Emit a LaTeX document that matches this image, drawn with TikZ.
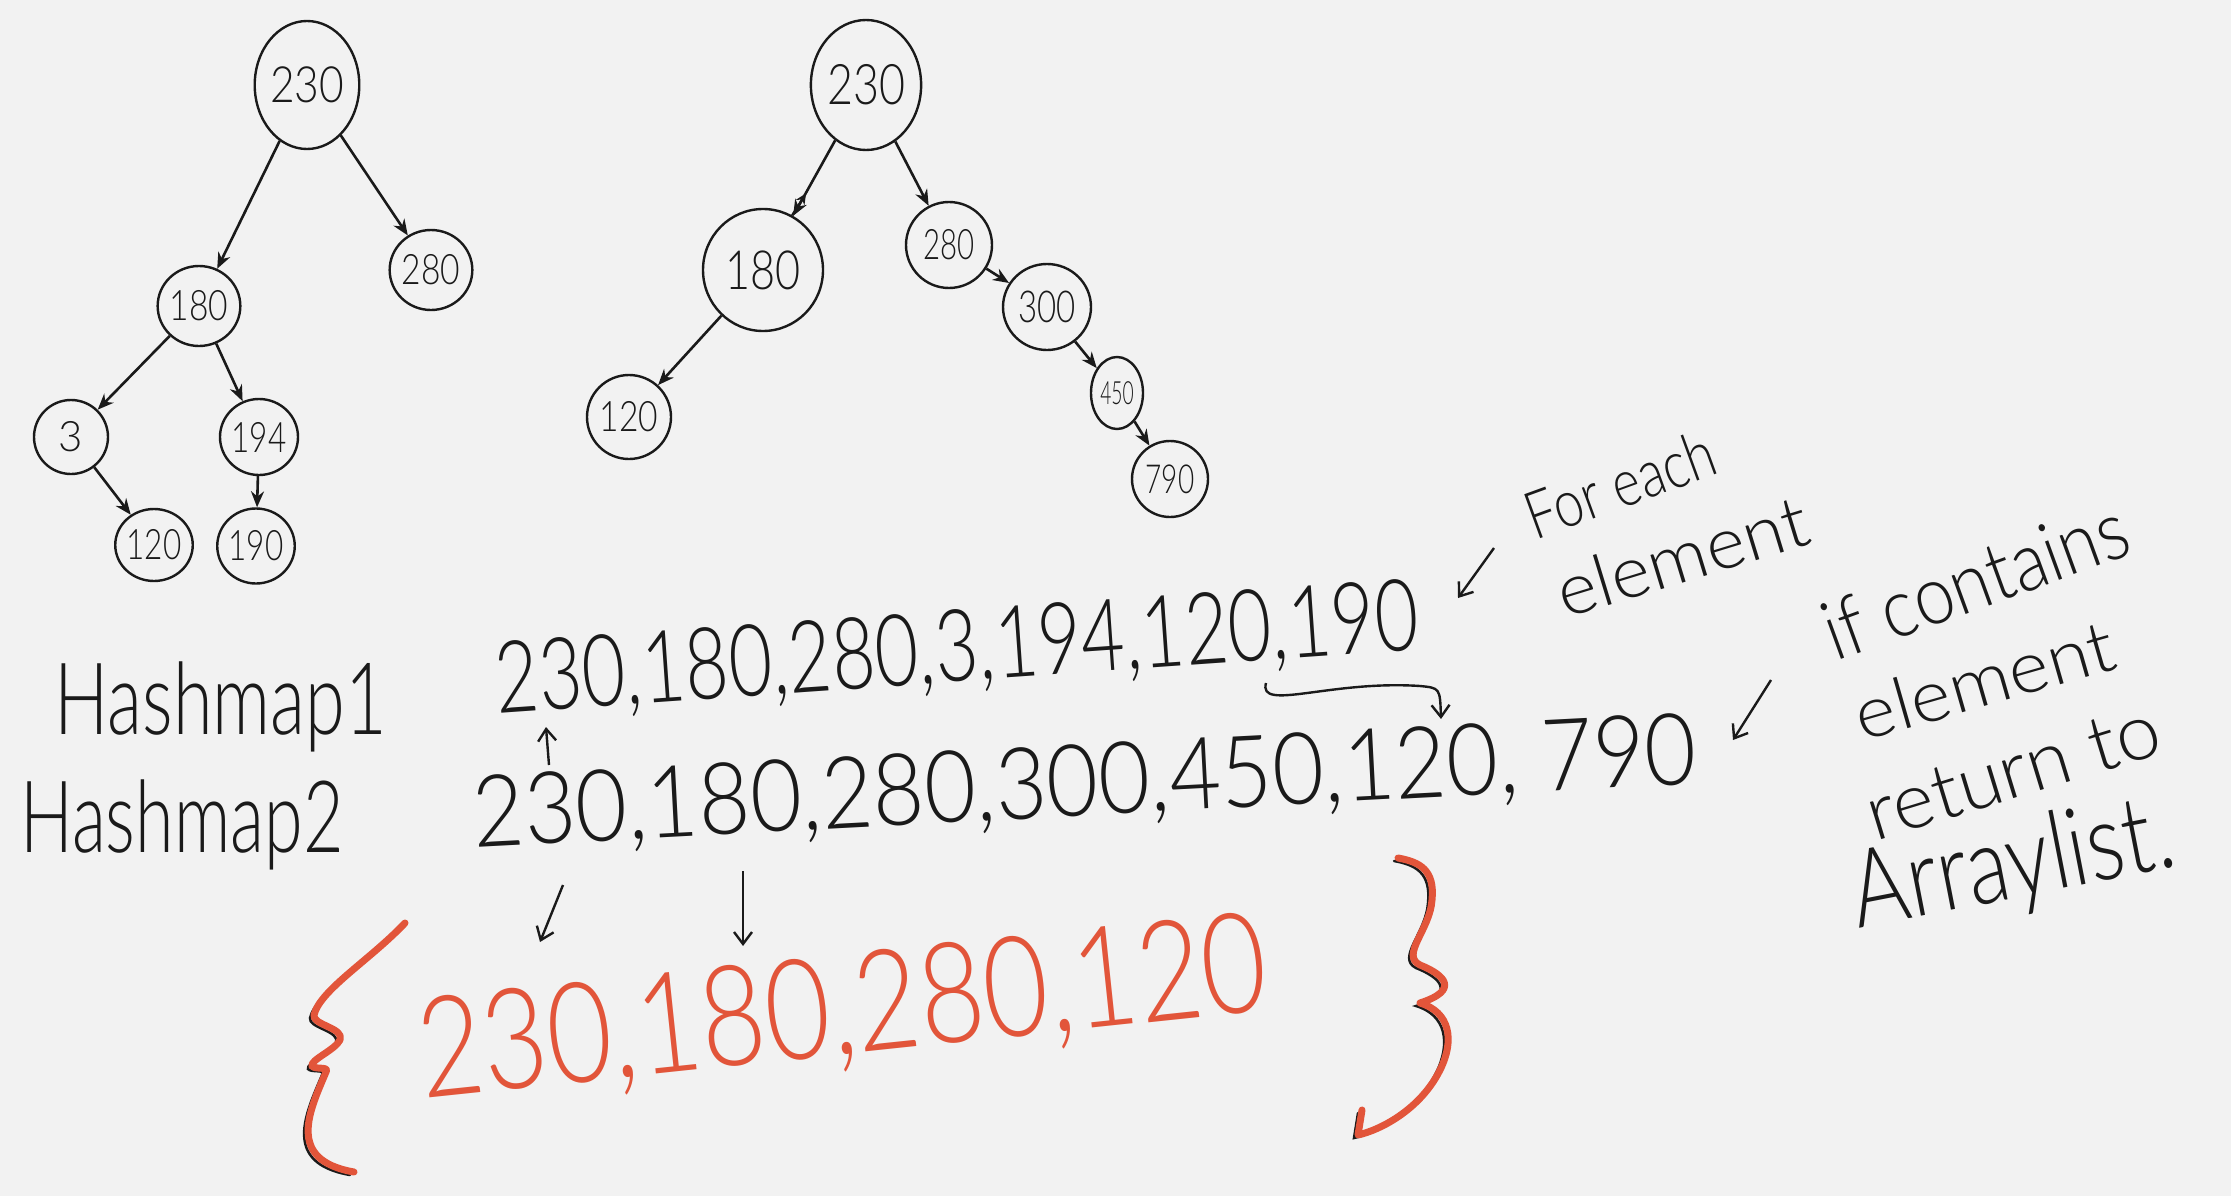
\documentclass[tikz,border=0pt]{standalone}
\usepackage{graphicx}
\usepackage{fontspec}
\setmainfont{Lato Light}
\usetikzlibrary{shapes.geometric,arrows.meta}
\definecolor{bg}{HTML}{F2F2F2}
\definecolor{ink}{HTML}{1A1A1A}
\definecolor{redink}{HTML}{E2553A}
\newcommand\hwsize[1]{\fontsize{#1}{#1}\selectfont}
\newcommand\sqz[2]{\scalebox{#1}[1]{#2}}
\begin{document}
\begin{tikzpicture}[x=1pt,y=-1pt,
  tn/.style={draw=ink, ellipse, line width=2.4, inner sep=0, text=ink},
  edge/.style={draw=ink, line width=2.6, -{Stealth[length=16,width=13]}},
  thinarrow/.style={draw=ink, line width=2.4, -{Straight Barb[length=12,width=18]}},
  hand/.style={text=ink, inner sep=0},
  redhand/.style={text=redink, inner sep=0},
  bracer/.style={draw=redink, line width=7, line cap=round, line join=round},
  braceb/.style={draw=ink, line width=2.5, line cap=round},
]
\fill[bg] (0,0) rectangle (2231,1196);
\useasboundingbox (0,0) rectangle (2231,1196);

% ---- left tree
\node[tn, minimum width=102, minimum height=128, font=\hwsize{50}] (L230) at (307,85) {\sqz{0.85}{230}};
\node[tn, minimum width=82, minimum height=80, font=\hwsize{42}] (L280) at (431,270) {\sqz{0.8}{280}};
\node[tn, minimum width=82, minimum height=80, font=\hwsize{42}] (L180) at (199,306) {\sqz{0.8}{180}};
\node[tn, minimum width=74, minimum height=74, font=\hwsize{42}] (L3) at (71,437) {3};
\node[tn, minimum width=78, minimum height=76, font=\hwsize{42}] (L194) at (259,437) {\sqz{0.75}{194}};
\node[tn, minimum width=74, minimum height=72, font=\hwsize{42}] (L120) at (154,545) {\sqz{0.75}{120}};
\node[tn, minimum width=77, minimum height=75, font=\hwsize{42}] (L190) at (256,546) {\sqz{0.75}{190}};
\draw[edge] (L230) -- (L180);
\draw[edge] (L230) -- (L280);
\draw[edge] (L180) -- (L3);
\draw[edge] (L180) -- (L194);
\draw[edge] (L3) -- (L120);
\draw[edge] (L194) -- (L190);

% ---- right tree
\node[tn, minimum width=106, minimum height=130, font=\hwsize{56}] (R230) at (866,85) {\sqz{0.8}{230}};
\node[tn, minimum width=120, minimum height=122, font=\hwsize{54}] (R180) at (763,270) {\sqz{0.8}{180}};
\node[tn, minimum width=86, minimum height=86, font=\hwsize{42}] (R280) at (949,245) {\sqz{0.7}{280}};
\node[tn, minimum width=84, minimum height=84, font=\hwsize{42}] (R120) at (629,417) {\sqz{0.8}{120}};
\node[tn, minimum width=88, minimum height=86, font=\hwsize{44}] (R300) at (1047,307) {\sqz{0.75}{300}};
\node[tn, minimum width=52, minimum height=72, font=\hwsize{32}] (R450) at (1117,393) {\sqz{0.6}{450}};
\node[tn, minimum width=76, minimum height=76, font=\hwsize{40}] (R790) at (1170,479) {\sqz{0.7}{790}};
\draw[edge] (R230) -- (R180);
\draw[draw=ink, line width=2.2, -{Stealth[length=11,width=10]}] (R180.62) -- ++(14,-22);
\draw[edge] (R230) -- (R280);
\draw[edge] (R180) -- (R120);
\draw[edge] (R280) -- (R300);
\draw[edge] (R300) -- (R450);
\draw[edge] (R450) -- (R790);

% ---- hashmap rows
\node[hand, font=\hwsize{100}, xscale=0.72] (hm1) at (221,707) {Hashmap1};
\node[hand, font=\hwsize{100}, xscale=0.70] (hm2) at (182,825) {Hashmap2};
\node[hand, font=\hwsize{100}, rotate=4, xscale=0.75] (row1) at (957,652) {230,180,280,3,194,120,190};
\node[hand, font=\hwsize{100}, rotate=3, xscale=0.89] (row2) at (1085,786) {230,180,280,300,450,120, 790};

% connectors between rows
\coordinate (c1s) at (1266,683);
\coordinate (c1e) at (1441,719);
\draw[thinarrow] (c1s) .. controls (1258,712) and (1330,680) .. (1420,686) .. controls (1440,688) .. (c1e);
\coordinate (ua1) at (549,765);
\coordinate (ua2) at (546,727);
\draw[thinarrow] (ua1) -- (ua2);
\coordinate (m1s) at (1494,548);
\coordinate (m1e) at (1458,598);
\draw[thinarrow] (m1s) -- (m1e);
\coordinate (m2s) at (1771,680);
\coordinate (m2e) at (1733,740);
\draw[thinarrow] (m2s) -- (m2e);
\coordinate (d1s) at (563,885);
\coordinate (d1e) at (540,942);
\draw[thinarrow] (d1s) -- (d1e);
\coordinate (d2s) at (743,871);
\coordinate (d2e) at (743,946);
\draw[thinarrow] (d2s) -- (d2e);

% ---- annotations
\node[hand, font=\hwsize{66}, rotate=20, xscale=0.8] (t1) at (1620,484) {For each};
\node[hand, font=\hwsize{72}, rotate=17, xscale=1.04] (t2) at (1682,556) {element};
\node[hand, font=\hwsize{82}, rotate=20, xscale=0.88] (t3) at (1975,580) {if contains};
\node[hand, font=\hwsize{72}, rotate=16, xscale=1.07] (t4) at (1984,680) {element};
\node[hand, font=\hwsize{78}, rotate=17, xscale=1.02] (t5) at (2013,772) {return to};
\node[hand, font=\hwsize{108}, rotate=11, xscale=0.8] (t6) at (2013,868) {Arraylist.};

% ---- result set
\node[redhand, font=\hwsize{140}, rotate=6, xscale=0.8] (res) at (843,1013) {230,180,280,120};
\begin{scope}[shift={(-4,3)}]
\draw[braceb] (405,923) .. controls (370,960) and (320,990) .. (314,1015) .. controls (312,1025) and (345,1028) .. (340,1040) .. controls (335,1050) and (310,1060) .. (312,1066) .. controls (315,1070) and (330,1066) .. (326,1072) .. controls (310,1110) and (285,1160) .. (354,1172);
\draw[braceb] (1398,858) .. controls (1420,862) and (1435,870) .. (1432,900) .. controls (1430,930) and (1400,955) .. (1420,965) .. controls (1445,975) and (1460,990) .. (1420,1003) .. controls (1450,1012) and (1455,1040) .. (1440,1070) .. controls (1420,1110) and (1380,1130) .. (1358,1135) -- (1362,1110);
\end{scope}
\draw[bracer] (405,923) .. controls (370,960) and (320,990) .. (314,1015) .. controls (312,1025) and (345,1028) .. (340,1040) .. controls (335,1050) and (310,1060) .. (312,1066) .. controls (315,1070) and (330,1066) .. (326,1072) .. controls (310,1110) and (285,1160) .. (354,1172);
\draw[bracer] (1398,858) .. controls (1420,862) and (1435,870) .. (1432,900) .. controls (1430,930) and (1400,955) .. (1420,965) .. controls (1445,975) and (1460,990) .. (1420,1003) .. controls (1450,1012) and (1455,1040) .. (1440,1070) .. controls (1420,1110) and (1380,1130) .. (1358,1135) -- (1362,1110);
\end{tikzpicture}
\end{document}
